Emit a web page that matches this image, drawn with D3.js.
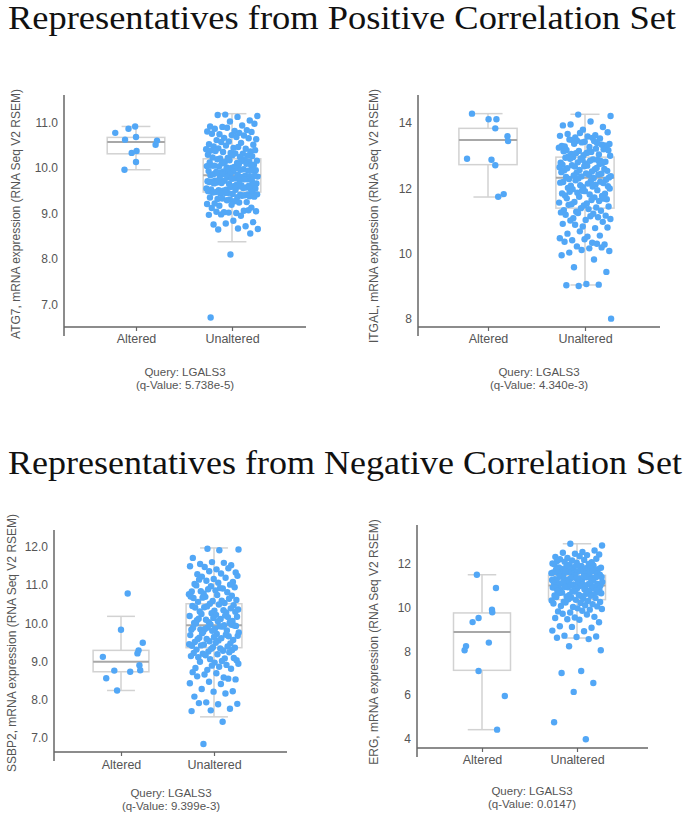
<!DOCTYPE html>
<html><head><meta charset="utf-8">
<script src="https://cdn.jsdelivr.net/npm/d3@7"></script>
<style>body{margin:0;background:#fff}svg{display:block}</style>
</head><body><svg id="c" width="689" height="820"></svg>
<script>
// ---------------- DATA ----------------
const categories = ["Altered", "Unaltered"];
const titles = ["Representatives from Positive Correlation Set", "Representatives from Negative Correlation Set"];
const genes = ["ATG7", "ITGAL", "SSBP2", "ERG"];
const queryGene = "LGALS3";
const qValues = ["5.738e-5", "4.340e-3", "9.399e-3", "0.0147"];

// ATG7
const atg7Ticks = [7, 8, 9, 10, 11];
const atg7Altered = [10.77, 10.86, 10.91, 10.62, 10.68, 10.33, 10.37, 10.13, 9.96, 10.60, 10.51];
const atg7AlteredJitter = [-0.72, -0.26, -0.03, -0.38, 0.0, -0.15, 0.02, 0.0, -0.4, 0.73, 0.68];
const atg7BoxAltered = [9.96, 10.31, 10.57, 10.67, 10.91];
const atg7BoxUnaltered = [8.38, 9.47, 9.84, 10.20, 11.19];
const atg7Unaltered = [
  11.17, 11.14, 11.12, 11.16, 11.04, 11.02, 10.91, 10.93, 10.90, 10.97,
  10.81, 10.86, 10.83, 10.88, 10.80, 10.77, 10.74, 10.79, 10.72, 10.75, 10.71,
  10.66, 10.63, 10.68, 10.61, 10.65, 10.58, 10.52, 10.55, 10.57, 10.51,
  10.44, 10.47, 10.42, 10.49, 10.41, 10.46, 10.43,
  10.36, 10.33, 10.38, 10.31, 10.35, 10.39, 10.32, 10.37,
  10.27, 10.22, 10.29, 10.24, 10.21, 10.26, 10.28, 10.23,
  10.18, 10.13, 10.16, 10.11, 10.19, 10.14, 10.17, 10.12, 10.15, 10.10,
  10.07, 10.02, 10.05, 10.09, 10.01, 10.04, 10.08, 10.03, 10.06, 10.00, 10.05,
  9.97, 9.92, 9.95, 9.99, 9.91, 9.94, 9.98, 9.93, 9.96, 9.90, 9.95, 9.92,
  9.86, 9.83, 9.88, 9.81, 9.85, 9.89, 9.82, 9.87, 9.84, 9.80, 9.86, 9.83,
  9.77, 9.72, 9.75, 9.79, 9.71, 9.74, 9.78, 9.73, 9.76, 9.70, 9.75, 9.72,
  9.66, 9.63, 9.68, 9.61, 9.65, 9.69, 9.62, 9.67, 9.64, 9.60, 9.66,
  9.57, 9.52, 9.55, 9.59, 9.51, 9.54, 9.58, 9.53, 9.56, 9.50, 9.55, 9.52,
  9.47, 9.42, 9.45, 9.49, 9.41, 9.44, 9.48, 9.43, 9.46, 9.40, 9.45, 9.42,
  9.36, 9.32, 9.38, 9.31, 9.35, 9.39, 9.33, 9.37,
  9.27, 9.22, 9.25, 9.29, 9.21, 9.24, 9.17, 9.13, 9.19, 9.12,
  9.06, 9.03, 9.05, 9.01, 9.04, 9.07, 9.02, 8.97, 8.95, 8.98,
  8.81, 8.84, 8.76, 8.72, 8.78, 8.66, 8.67, 8.65, 8.56, 8.10, 6.72
];

// ITGAL
const itgalTicks = [8, 10, 12, 14];
const itgalAltered = [14.28, 14.11, 14.11, 13.83, 13.59, 13.44, 12.90, 12.87, 12.70, 11.82, 11.74];
const itgalAlteredJitter = [-0.55, 0.02, 0.29, 0.25, 0.67, 0.69, -0.72, 0.12, 0.25, 0.54, 0.35];
const itgalBoxAltered = [11.73, 12.72, 13.47, 13.83, 14.28];
const itgalBoxUnaltered = [9.04, 11.39, 12.32, 12.95, 14.26];
const itgalUnaltered = [
  14.25, 14.21, 14.04, 13.95, 13.87, 13.79, 13.92,
  13.62, 13.55, 13.71, 13.58, 13.66, 13.52, 13.69, 13.60, 13.54,
  13.47, 13.31, 13.42, 13.28, 13.38, 13.45, 13.35, 13.26, 13.49, 13.33, 13.40, 13.29, 13.44, 13.36,
  13.22, 13.08, 13.17, 13.03, 13.14, 13.24, 13.11, 13.05, 13.19, 13.01, 13.13, 13.21, 13.07, 13.16, 13.10,
  12.97, 12.83, 12.91, 12.78, 12.88, 12.95, 12.81, 12.76, 12.93, 12.86, 12.79, 12.99, 12.84, 12.90, 12.77, 12.87,
  12.72, 12.58, 12.66, 12.53, 12.69, 12.61, 12.74, 12.56, 12.64, 12.51, 12.70, 12.59, 12.67, 12.55, 12.62,
  12.47, 12.33, 12.41, 12.28, 12.44, 12.36, 12.49, 12.31, 12.39, 12.26, 12.45, 12.34, 12.42, 12.30, 12.37,
  12.22, 12.08, 12.16, 12.03, 12.19, 12.11, 12.24, 12.06, 12.14, 12.01, 12.20, 12.09, 12.17, 12.05,
  11.97, 11.83, 11.91, 11.78, 11.94, 11.86, 11.99, 11.81, 11.89, 11.76, 11.92, 11.84,
  11.72, 11.58, 11.66, 11.53, 11.69, 11.61, 11.74, 11.56, 11.64, 11.51, 11.68,
  11.47, 11.33, 11.41, 11.28, 11.44, 11.36, 11.49, 11.31, 11.39, 11.26,
  11.22, 11.08, 11.16, 11.03, 11.19, 11.11, 11.24, 11.06, 11.14, 11.01,
  10.97, 10.83, 10.91, 10.78, 10.88, 10.80, 10.52, 10.61, 10.55, 10.68,
  10.47, 10.33, 10.41, 10.28, 10.44, 10.36, 10.30, 10.22, 10.08, 10.16, 10.03, 10.19, 10.11,
  9.95, 9.82, 9.58, 9.44, 9.07, 9.03, 9.05, 9.01, 8.01
];

// SSBP2
const ssbp2Ticks = [7, 8, 9, 10, 11, 12];
const ssbp2Altered = [10.78, 9.83, 9.49, 9.29, 9.21, 9.12, 8.90, 8.77, 8.76, 8.73, 8.56, 8.24];
const ssbp2AlteredJitter = [0.24, 0.0, 0.78, 0.63, 0.59, -0.65, 0.66, 0.69, -0.24, 0.33, -0.53, -0.14];
const ssbp2BoxAltered = [8.24, 8.73, 8.99, 9.29, 10.18];
const ssbp2BoxUnaltered = [7.55, 9.36, 9.95, 10.51, 11.97];
const ssbp2Unaltered = [
  11.95, 11.93, 11.91, 11.55, 11.52, 11.60, 11.71, 11.58,
  11.47, 11.33, 11.41, 11.28, 11.44, 11.36, 11.49, 11.30,
  11.22, 11.08, 11.16, 11.03, 11.19, 11.11, 11.24, 11.06, 11.14, 11.01,
  10.97, 10.83, 10.91, 10.78, 10.94, 10.86, 10.99, 10.81, 10.89, 10.76, 10.92, 10.84,
  10.72, 10.58, 10.66, 10.53, 10.69, 10.61, 10.74, 10.56, 10.64, 10.51, 10.70, 10.59, 10.67,
  10.47, 10.33, 10.41, 10.28, 10.44, 10.36, 10.49, 10.31, 10.39, 10.26, 10.45, 10.34, 10.42, 10.30,
  10.22, 10.08, 10.16, 10.03, 10.19, 10.11, 10.24, 10.06, 10.14, 10.01, 10.20, 10.09, 10.17, 10.05, 10.12, 10.02,
  9.97, 9.83, 9.91, 9.78, 9.94, 9.86, 9.99, 9.81, 9.89, 9.76, 9.92, 9.84, 9.96, 9.80, 9.88, 9.95, 9.85, 9.93,
  9.72, 9.58, 9.66, 9.53, 9.69, 9.61, 9.74, 9.56, 9.64, 9.51, 9.70, 9.59, 9.67, 9.55, 9.62,
  9.47, 9.33, 9.41, 9.28, 9.44, 9.36, 9.49, 9.31, 9.39, 9.26, 9.45, 9.34, 9.42, 9.30, 9.37,
  9.22, 9.08, 9.16, 9.03, 9.19, 9.11, 9.24, 9.06, 9.14, 9.01, 9.20, 9.09,
  8.97, 8.83, 8.91, 8.78, 8.94, 8.86, 8.99, 8.81, 8.89,
  8.72, 8.58, 8.66, 8.53, 8.69, 8.61, 8.55, 8.47, 8.43, 8.41, 8.28,
  8.22, 8.21, 8.08, 8.16, 7.93, 7.89, 7.88, 7.91, 7.76, 7.72, 7.70, 7.42, 6.84
];

// ERG
const ergTicks = [4, 6, 8, 10, 12];
const ergAltered = [11.51, 10.90, 9.91, 9.79, 9.53, 9.34, 8.40, 8.24, 8.05, 7.10, 5.95, 4.41];
const ergAlteredJitter = [-0.18, 0.49, 0.35, 0.36, -0.12, -0.33, 0.24, -0.56, -0.61, -0.12, 0.8, 0.53];
const ergBoxAltered = [4.41, 7.13, 8.89, 9.76, 11.51];
const ergBoxUnaltered = [8.61, 10.37, 11.02, 11.48, 12.93];
const ergUnaltered = [
  12.93, 12.85, 12.55, 12.52, 12.62,
  12.47, 12.33, 12.41, 12.28, 12.44, 12.36,
  12.22, 12.08, 12.16, 12.03, 12.19, 12.11, 12.24, 12.06, 12.14, 12.01,
  11.97, 11.83, 11.91, 11.78, 11.94, 11.86, 11.99, 11.81, 11.89, 11.76, 11.92, 11.84, 11.80,
  11.72, 11.58, 11.66, 11.53, 11.69, 11.61, 11.74, 11.56, 11.64, 11.51, 11.70, 11.59, 11.67, 11.55, 11.62, 11.52, 11.68, 11.57, 11.65, 11.60,
  11.47, 11.33, 11.41, 11.28, 11.44, 11.36, 11.49, 11.31, 11.39, 11.26, 11.45, 11.34, 11.42, 11.30, 11.37, 11.27, 11.43, 11.32, 11.40, 11.35,
  11.22, 11.08, 11.16, 11.03, 11.19, 11.11, 11.24, 11.06, 11.14, 11.01, 11.20, 11.09, 11.17, 11.05, 11.12, 11.02, 11.18, 11.07, 11.15,
  10.97, 10.83, 10.91, 10.78, 10.94, 10.86, 10.99, 10.81, 10.89, 10.76, 10.92, 10.84, 10.95, 10.80, 10.88, 10.77,
  10.72, 10.58, 10.66, 10.53, 10.69, 10.61, 10.74, 10.56, 10.64, 10.51, 10.70, 10.59, 10.67, 10.55,
  10.47, 10.33, 10.41, 10.28, 10.44, 10.36, 10.49, 10.31, 10.39, 10.26,
  10.22, 10.08, 10.16, 10.03, 10.19, 10.11, 10.24, 10.06,
  9.97, 9.83, 9.91, 9.78, 9.94, 9.86, 9.72, 9.58, 9.55, 9.53, 9.69,
  9.47, 9.33, 9.45, 9.15, 9.08, 9.12, 8.95, 8.92,
  8.72, 8.68, 8.66, 8.62, 8.56,
  8.23, 8.05, 7.10, 7.01, 6.55, 6.14, 4.75, 3.97
];

// ---------------- LAYOUT ----------------
const svg = d3.select("#c");
const FONT = "'Liberation Sans', Arial, sans-serif";
const dotColor = "#52a7f6";

const panels = [
  {gene: genes[0], q: qValues[0], ticks: atg7Ticks, fmt: d3.format(".1f"), alt: atg7Altered, altJ: atg7AlteredJitter, unalt: atg7Unaltered, boxA: atg7BoxAltered, boxU: atg7BoxUnaltered,
   left: 64, right: 306, top: 95, bottom: 327, xA: 136, xU: 232, dom: [6.51, 11.6], labX: 20, labY: 214, xLabBase: 343, qBase: 376, cx: 185},
  {gene: genes[1], q: qValues[1], ticks: itgalTicks, fmt: d3.format("d"), alt: itgalAltered, altJ: itgalAlteredJitter, unalt: itgalUnaltered, boxA: itgalBoxAltered, boxU: itgalBoxUnaltered,
   left: 418, right: 660, top: 95, bottom: 327, xA: 488, xU: 585, dom: [7.755, 14.85], labX: 378, labY: 216, xLabBase: 343, qBase: 376, cx: 539},
  {gene: genes[2], q: qValues[2], ticks: ssbp2Ticks, fmt: d3.format(".1f"), alt: ssbp2Altered, altJ: ssbp2AlteredJitter, unalt: ssbp2Unaltered, boxA: ssbp2BoxAltered, boxU: ssbp2BoxUnaltered,
   left: 54, right: 287, top: 530, bottom: 752, xA: 121, xU: 214, dom: [6.63, 12.44], labX: 16, labY: 643, xLabBase: 769, qBase: 797, cx: 171},
  {gene: genes[3], q: qValues[3], ticks: ergTicks, fmt: d3.format("d"), alt: ergAltered, altJ: ergAlteredJitter, unalt: ergUnaltered, boxA: ergBoxAltered, boxU: ergBoxUnaltered,
   left: 417, right: 648, top: 525, bottom: 748, xA: 482, xU: 577, dom: [3.57, 13.79], labX: 378, labY: 642, xLabBase: 764, qBase: 795, cx: 532}
];

// titles
svg.append("text").attr("x", 8).attr("y", 29).attr("textLength", 668).attr("lengthAdjust", "spacingAndGlyphs")
  .attr("font-family", "'Liberation Serif', 'Times New Roman', serif").attr("font-size", 33).attr("fill", "#111").text(titles[0]);
svg.append("text").attr("x", 8).attr("y", 474).attr("textLength", 674).attr("lengthAdjust", "spacingAndGlyphs")
  .attr("font-family", "'Liberation Serif', 'Times New Roman', serif").attr("font-size", 33).attr("fill", "#111").text(titles[1]);

const golden = 0.6180339887;
panels.forEach(p => {
  const g = svg.append("g");
  const x = d3.scalePoint().domain(categories).range([p.xA, p.xU]);
  const y = d3.scaleLinear().domain(p.dom).range([p.bottom, p.top]);
  const step = p.xU - p.xA;
  const boxW = step * 0.6;
  const half = boxW / 2;

  // axes
  const ya = g.append("g").attr("transform", `translate(${p.left},0)`)
    .call(d3.axisLeft(y).tickValues(p.ticks).tickFormat(p.fmt).tickSize(0).tickPadding(6));
  ya.select(".domain").remove();
  ya.selectAll("text").attr("font-family", FONT).attr("font-size", 12).attr("fill", "#555");
  g.append("line").attr("x1", p.left).attr("x2", p.left).attr("y1", p.top).attr("y2", p.bottom + 9)
    .attr("stroke", "#666").attr("stroke-width", 1.5);

  const xa = g.append("g").attr("transform", `translate(0,${p.bottom})`)
    .call(d3.axisBottom(x).tickSize(4).tickPadding(p.xLabBase - p.bottom - 12.5));
  xa.select(".domain").remove();
  xa.selectAll("line").attr("stroke", "#666").attr("stroke-width", 1.2);
  xa.selectAll("text").attr("font-family", FONT).attr("font-size", 12.5).attr("fill", "#555");
  g.append("line").attr("x1", p.left).attr("x2", p.right).attr("y1", p.bottom).attr("y2", p.bottom)
    .attr("stroke", "#666").attr("stroke-width", 1.5);

  // y label
  g.append("text").attr("transform", `translate(${p.labX},${p.labY}) rotate(-90)`)
    .attr("text-anchor", "middle").attr("font-family", FONT).attr("font-size", 12).attr("fill", "#555")
    .text(`${p.gene}, mRNA expression (RNA Seq V2 RSEM)`);
  // query labels
  g.append("text").attr("x", p.cx).attr("y", p.qBase).attr("text-anchor", "middle")
    .attr("font-family", FONT).attr("font-size", 11.5).attr("fill", "#555").text(`Query: ${queryGene}`);
  g.append("text").attr("x", p.cx).attr("y", p.qBase + 13).attr("text-anchor", "middle")
    .attr("font-family", FONT).attr("font-size", 11.5).attr("fill", "#555").text(`(q-Value: ${p.q})`);

  // boxes
  [[categories[0], p.boxA], [categories[1], p.boxU]].forEach(([cat, b]) => {
    const cx = x(cat);
    const bg = g.append("g").attr("stroke", "#d2d2d2").attr("fill", "none").attr("stroke-width", 1.5);
    bg.append("line").attr("x1", cx).attr("x2", cx).attr("y1", y(b[0])).attr("y2", y(b[1]));
    bg.append("line").attr("x1", cx).attr("x2", cx).attr("y1", y(b[3])).attr("y2", y(b[4]));
    bg.append("line").attr("x1", cx - half / 2).attr("x2", cx + half / 2).attr("y1", y(b[0])).attr("y2", y(b[0]));
    bg.append("line").attr("x1", cx - half / 2).attr("x2", cx + half / 2).attr("y1", y(b[4])).attr("y2", y(b[4]));
    bg.append("rect").attr("x", cx - half).attr("width", boxW).attr("y", y(b[3])).attr("height", y(b[1]) - y(b[3]));
    g.append("line").attr("x1", cx - half).attr("x2", cx + half).attr("y1", y(b[2])).attr("y2", y(b[2]))
      .attr("stroke", "#a8a8a8").attr("stroke-width", 2);
  });

  // points
  g.append("g").selectAll("circle").data(p.unalt).join("circle")
    .attr("cx", (d, i) => x(categories[1]) + (((i * golden + 0.37) % 1) * 2 - 1) * half * 0.9)
    .attr("cy", d => y(d)).attr("r", 3.2).attr("fill", dotColor);
  g.append("g").selectAll("circle").data(p.alt).join("circle")
    .attr("cx", (d, i) => x(categories[0]) + p.altJ[i] * half)
    .attr("cy", d => y(d)).attr("r", 3.2).attr("fill", dotColor);
});
</script></body></html>
